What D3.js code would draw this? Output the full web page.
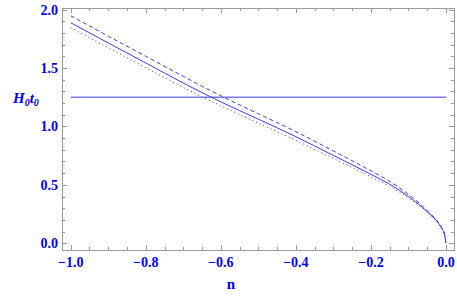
<!DOCTYPE html>
<html>
<head>
<meta charset="utf-8">
<script src="https://cdn.jsdelivr.net/npm/d3@7"></script>
<style>
  body { margin: 0; background: #fff; }
  svg { display: block; }
  .lbl { font-family: 'Liberation Serif', 'DejaVu Serif', serif; font-weight: bold; fill: #0000ff; }
</style>
</head>
<body>
<svg id="chart" width="457" height="298"></svg>
<script>
// n values
const nValues = [-1.0, -0.9, -0.8, -0.7, -0.6, -0.5, -0.4, -0.3, -0.2, -0.15, -0.1, -0.05, -0.02, -0.01, -0.005, 0.0];

// H0 t0, three curves
const solidValues  = [1.887, 1.714, 1.543, 1.371, 1.210, 1.062, 0.912, 0.752, 0.590, 0.505, 0.400, 0.270, 0.171, 0.121, 0.088, 0.0];
const dashedValues = [1.947, 1.772, 1.600, 1.428, 1.262, 1.108, 0.955, 0.790, 0.620, 0.530, 0.418, 0.280, 0.176, 0.124, 0.090, 0.0];
const dottedValues = [1.844, 1.673, 1.503, 1.333, 1.176, 1.028, 0.880, 0.726, 0.568, 0.487, 0.387, 0.262, 0.166, 0.118, 0.085, 0.0];

// horizontal reference line
const refValue = 1.25;

const xTicks = [-1.0, -0.8, -0.6, -0.4, -0.2, 0.0];
const yTicks = [0.0, 0.5, 1.0, 1.5, 2.0];

const svg = d3.select('#chart');
const mLeft = 62, mRight = 454, mTop = 8, mBottom = 250;

const x = d3.scaleLinear().domain([-1.0232, 0.0213]).range([mLeft, mRight]);
const y = d3.scaleLinear().domain([-0.0572, 2.013]).range([mBottom, mTop]);

const frameColor = '#9a9a9a';
const lineColor = '#3c3cff';

// ticks (inward, on all four sides)
const xMinor = d3.range(-1.0, 0.001, 0.05).map(v => +v.toFixed(2));
const yMinor = d3.range(0, 2.001, 0.1).map(v => +v.toFixed(2));
const isMajorX = v => xTicks.some(t => Math.abs(t - v) < 1e-6);
const isMajorY = v => yTicks.some(t => Math.abs(t - v) < 1e-6);

const tg = svg.append('g').attr('stroke', frameColor).attr('stroke-width', 1);
xMinor.forEach(v => {
  const len = isMajorX(v) ? 5 : 3;
  const px = Math.round(x(v)) + 0.5;
  tg.append('line').attr('x1', px).attr('x2', px).attr('y1', mBottom).attr('y2', mBottom - len);
  tg.append('line').attr('x1', px).attr('x2', px).attr('y1', mTop).attr('y2', mTop + len);
});
yMinor.forEach(v => {
  const len = isMajorY(v) ? 5 : 3;
  const py = Math.round(y(v)) + 0.5;
  tg.append('line').attr('x1', mLeft).attr('x2', mLeft + len).attr('y1', py).attr('y2', py);
  tg.append('line').attr('x1', mRight).attr('x2', mRight - len).attr('y1', py).attr('y2', py);
});

svg.append('rect')
  .attr('x', mLeft + 0.5).attr('y', mTop + 0.5)
  .attr('width', mRight - mLeft).attr('height', mBottom - mTop)
  .attr('fill', 'none').attr('stroke', frameColor).attr('stroke-width', 1);

// tick labels
const fmt = v => (v < 0 ? '\u2212' : '') + Math.abs(v).toFixed(1);
svg.selectAll('.xl').data(xTicks).join('text')
  .attr('class', 'lbl xl')
  .attr('x', d => x(d)).attr('y', 267)
  .attr('text-anchor', 'middle').attr('font-size', 14)
  .text(fmt);
svg.selectAll('.yl').data(yTicks).join('text')
  .attr('class', 'lbl yl')
  .attr('x', 58).attr('y', d => y(d) + 5)
  .attr('text-anchor', 'end').attr('font-size', 14)
  .text(fmt);

// axis titles
svg.append('text').attr('class', 'lbl')
  .attr('x', 231).attr('y', 289).attr('text-anchor', 'middle').attr('font-size', 15)
  .text('n');
const yt = svg.append('text').attr('class', 'lbl')
  .attr('x', 13).attr('y', 103).attr('font-size', 15).attr('font-style', 'italic');
yt.append('tspan').text('H');
yt.append('tspan').attr('font-size', 10).attr('dy', 3).text('0');
yt.append('tspan').attr('dy', -3).text('t');
yt.append('tspan').attr('font-size', 10).attr('dy', 3).text('0');

// reference line
svg.append('line')
  .attr('x1', x(-1.0)).attr('x2', x(0.0))
  .attr('y1', y(refValue)).attr('y2', y(refValue))
  .attr('stroke', '#7a7aff').attr('stroke-width', 1.5);

// curves
const line = d3.line()
  .x((d, i) => x(nValues[i]))
  .y(d => y(d))
  .curve(d3.curveMonotoneX);

const series = [
  { values: dashedValues, dash: '4,3' },
  { values: solidValues, dash: null },
  { values: dottedValues, dash: '1,3' }
];

svg.selectAll('.curve').data(series).join('path')
  .attr('class', 'curve')
  .attr('d', d => line(d.values))
  .attr('fill', 'none')
  .attr('stroke', lineColor)
  .attr('stroke-width', 1)
  .attr('stroke-dasharray', d => d.dash);
</script>
</body>
</html>
